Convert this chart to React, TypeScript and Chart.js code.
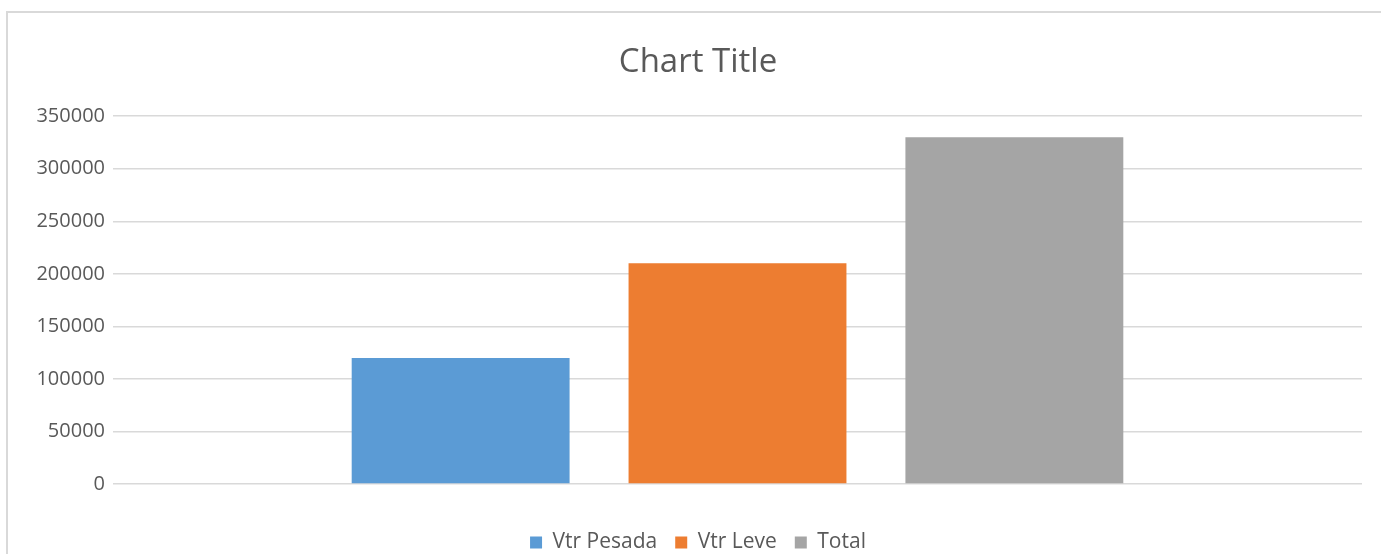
import React, { useEffect, useRef } from "react";
import { Chart, registerables } from "chart.js";

Chart.register(...registerables);

const categories = [""];
const seriesNames = ["Vtr Pesada", "Vtr Leve", "Total"];
const seriesValues = [[120000], [210000], [330000]];
const seriesColors = ["#5B9BD5", "#ED7D31", "#A5A5A5"];
const yTicks = [0, 50000, 100000, 150000, 200000, 250000, 300000, 350000];
const titleText = "Chart Title";

const FONT = "'Open Sans', 'Noto Sans', sans-serif";
const TEXT = "#595959";

export default function App() {
  const ref = useRef<HTMLCanvasElement | null>(null);
  useEffect(() => {
    if (!ref.current) return;
    const chart = new Chart(ref.current, {
      type: "bar",
      data: {
        labels: categories,
        datasets: seriesNames.map((n, i) => ({
          label: n,
          data: seriesValues[i],
          backgroundColor: seriesColors[i],
          borderWidth: 0,
          categoryPercentage: 0.665,
          barPercentage: 0.787,
        })),
      },
      options: {
        animation: false,
        responsive: false,
        maintainAspectRatio: false,
        layout: { padding: { left: 26, right: 19, top: 0, bottom: 0 } },
        plugins: {
          title: {
            display: true,
            text: titleText,
            color: TEXT,
            font: { family: FONT, size: 33, weight: "normal" as any, lineHeight: 1.2 },
            padding: { top: 30, bottom: 33.6 },
          },
          legend: {
            position: "bottom",
            labels: {
              color: TEXT,
              font: { family: FONT, size: 21 },
              boxWidth: 12,
              boxHeight: 12,
              padding: 18,
            },
          },
          tooltip: { enabled: false },
        },
        scales: {
          x: {
            display: true,
            grid: { display: false },
            border: { display: false },
            ticks: { display: false },
            afterFit: (s: any) => {
              s.height = 30;
            },
          },
          y: {
            min: 0,
            max: 350000,
            afterBuildTicks: (s: any) => {
              s.ticks = yTicks.map((v) => ({ value: v }));
            },
            afterFit: (s: any) => {
              s.width = 79;
            },
            grid: { color: "#D9D9D9", lineWidth: 1.5, drawTicks: false },
            border: { display: false },
            ticks: {
              color: TEXT,
              font: { family: FONT, size: 20 },
              padding: 8,
              callback: (v: any) => String(v),
            },
          },
        },
      },
    });
    return () => chart.destroy();
  }, []);

  return (
    <div
      style={{
        position: "fixed",
        left: 6,
        top: 11,
        width: 1400,
        height: 600,
        borderLeft: "2px solid #D9D9D9",
        borderTop: "2px solid #D9D9D9",
        background: "#fff",
      }}
    >
      <canvas ref={ref} width={1373} height={550} style={{ display: "block" }} />
    </div>
  );
}
